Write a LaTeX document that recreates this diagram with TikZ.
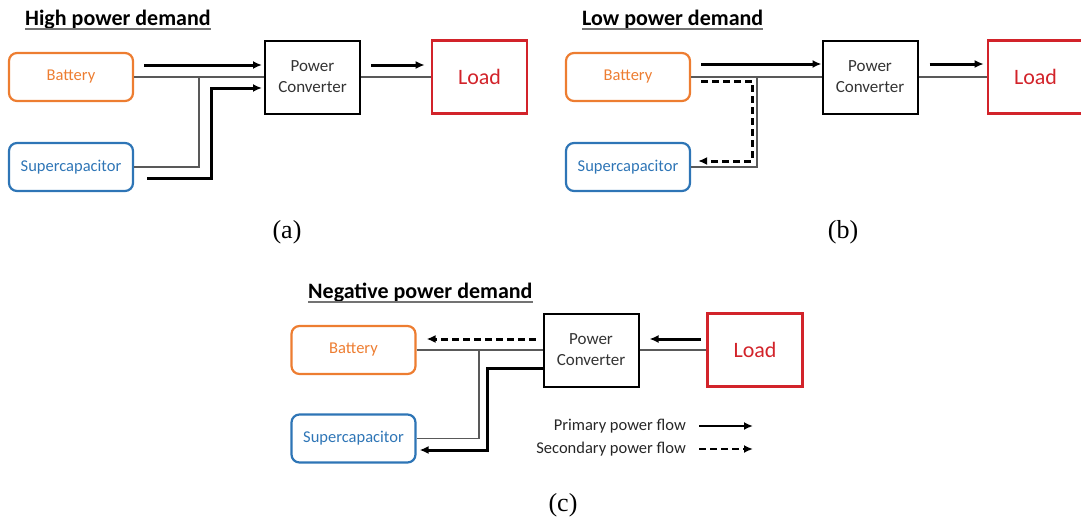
\documentclass[tikz,border=0pt]{standalone}
\usepackage{fontspec}
\setmainfont{Carlito}
\newfontfamily\capfont{Liberation Serif}
\usetikzlibrary{arrows.meta,positioning}
\definecolor{battorange}{RGB}{237,125,49}
\definecolor{supblue}{RGB}{46,117,182}
\definecolor{loadred}{RGB}{210,35,42}

\begin{document}
\begin{tikzpicture}[
  x=1pt, y=-1pt,
  >={Latex[length=9pt,width=8pt]},
  blk/.style={draw, inner sep=0pt, minimum width=124pt, minimum height=48pt,
              rounded corners=8pt, line width=2.2pt, font=\fontsize{16.5}{19}\selectfont},
  batt/.style={blk, draw=battorange, text=battorange},
  supc/.style={blk, draw=supblue, text=supblue},
  conv/.style={draw, line width=2pt, minimum width=95pt, minimum height=73pt,
               inner sep=0pt, align=center, text=black!80, font=\fontsize{17}{21}\selectfont},
  loadbox/.style={draw=loadred, line width=2.6pt, minimum width=95pt, minimum height=73pt,
                  text=loadred, font=\fontsize{22}{25}\selectfont},
  title/.style={anchor=base west, inner sep=0pt, font=\fontsize{22}{26}\selectfont\bfseries},
  uline/.style={line width=1.8pt, black!55},
  wire/.style={line width=1.1pt, black!65},
  flow/.style={->, line width=3pt},
  sflow/.style={->, line width=3pt, dash pattern=on 7pt off 4pt},
  legend/.style={anchor=east, inner sep=0pt, text=black!85, font=\fontsize{16.5}{19}\selectfont},
  caption/.style={font=\capfont\fontsize{26}{30}\selectfont}
]
  \useasboundingbox (0,0) rectangle (1081,522);

  % (a) high power demand
  \node[title] (titA) at (25,25) {High power demand};
  \draw[uline] ([yshift=-4pt]titA.base west) -- ([yshift=-4pt]titA.base east);
  \node[batt] (batA) at (71,77) {Battery};
  \node[supc] (supA) at (71,167) {Supercapacitor};
  \node[conv] (convA) at (312.5,77) {Power\\Converter};
  \node[loadbox] (loadA) at (479.5,77) {Load};
  \coordinate (jA) at (199,77);

  \draw[wire] (batA.east) -- (convA.west);
  \draw[wire] (convA.east) -- (loadA.west);
  \draw[wire] (supA.east) -| (jA);
  \draw[flow] ([xshift=10pt,yshift=12pt]batA.east) -- ([xshift=-2pt,yshift=12pt]convA.west);
  \draw[flow] ([xshift=13pt,yshift=-11pt]supA.east) -- ++(64,0) |- ([xshift=-2pt,yshift=-11pt]convA.west);
  \draw[flow] ([xshift=10pt,yshift=12pt]convA.east) -- ([xshift=-6pt,yshift=12pt]loadA.west);
  \node[caption] (capA) at (287,232) {(a)};

  % (b) low power demand
  \node[title] (titB) at (582,25) {Low power demand};
  \draw[uline] ([yshift=-4pt]titB.base west) -- ([yshift=-4pt]titB.base east);
  \node[batt] (batB) at (628,77) {Battery};
  \node[supc] (supB) at (628,167) {Supercapacitor};
  \node[conv] (convB) at (870,77) {Power\\Converter};
  \node[loadbox] (loadB) at (1035.5,77) {Load};
  \coordinate (jB) at (757,77);

  \draw[wire] (batB.east) -- (convB.west);
  \draw[wire] (convB.east) -- (loadB.west);
  \draw[wire] (supB.east) -| (jB);
  \draw[flow] ([xshift=10pt,yshift=13pt]batB.east) -- ([yshift=13pt]convB.west);
  \draw[flow] ([xshift=11pt,yshift=13pt]convB.east) -- ([xshift=-3pt,yshift=13pt]loadB.west);
  \draw[sflow] ([xshift=10pt,yshift=-4pt]batB.east) -- ++(51,0) |- ([xshift=7pt,yshift=6pt]supB.east);
  \node[caption] (capB) at (843,232) {(b)};

  % (c) negative power demand
  \node[title] (titC) at (308,298) {Negative power demand};
  \draw[uline] ([yshift=-4pt]titC.base west) -- ([yshift=-4pt]titC.base east);
  \node[batt] (batC) at (353.5,350) {Battery};
  \node[supc] (supC) at (353.5,438.5) {Supercapacitor};
  \node[conv] (convC) at (591,350) {Power\\Converter};
  \node[loadbox] (loadC) at (755,350) {Load};
  \coordinate (jC) at (479,350);

  \draw[wire] (batC.east) -- (convC.west);
  \draw[wire] (convC.east) -- (loadC.west);
  \draw[wire] (supC.east) -| (jC);
  \draw[sflow] ([xshift=-7pt,yshift=11pt]convC.west) -- ([xshift=10pt,yshift=11pt]batC.east);
  \draw[flow] ([xshift=-5pt,yshift=11pt]loadC.west) -- ([xshift=10pt,yshift=11pt]convC.east);
  \draw[flow] ([yshift=-18pt]convC.west) -- ++(-55,0) |- ([xshift=3pt,yshift=-11.5pt]supC.east);

  \node[legend] (legP) at (686,426) {Primary power flow};
  \node[legend] (legS) at (686,449) {Secondary power flow};
  \draw[flow, line width=2.4pt] ([xshift=13pt]legP.east) -- ++(54,0);
  \draw[sflow, line width=2.4pt] ([xshift=13pt]legS.east) -- ++(54,0);
  \node[caption] (capC) at (563,505) {(c)};
\end{tikzpicture}
\end{document}
